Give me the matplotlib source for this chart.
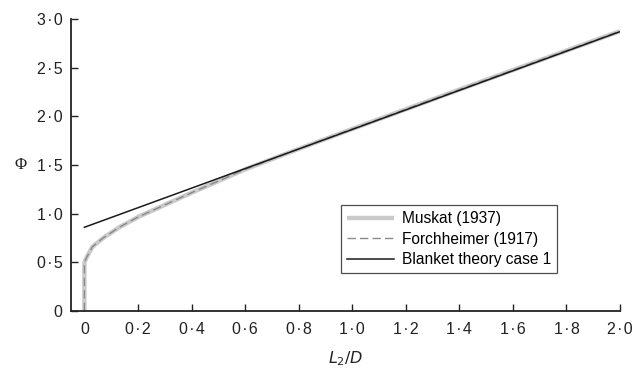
"""Shape factor Phi against L2/D: Muskat, Forchheimer and blanket theory."""

import matplotlib
matplotlib.use("Agg")
import matplotlib.pyplot as plt
from matplotlib.ticker import FuncFormatter

# --- Data -----------------------------------------------------------------
L2_D = [0.0, 0.0, 0.005, 0.01, 0.03, 0.07, 0.13, 0.2, 0.3, 0.4, 0.5, 0.6,
        0.8, 1.0, 1.5, 2.0]
PHI_MUSKAT = [0.0, 0.50, 0.53, 0.56, 0.66, 0.75, 0.86, 0.965, 1.09, 1.215,
              1.335, 1.455, 1.665, 1.87, 2.375, 2.875]
PHI_FORCHHEIMER = PHI_MUSKAT  # the two curves overlap in the figure

L2_D_BLANKET = [0.0, 2.0]
PHI_BLANKET = [0.86, 2.87]

X_TICKS = [0.0, 0.2, 0.4, 0.6, 0.8, 1.0, 1.2, 1.4, 1.6, 1.8, 2.0]
Y_TICKS = [0.0, 0.5, 1.0, 1.5, 2.0, 2.5, 3.0]

SANS = ["Liberation Sans", "DejaVu Sans"]
INK = "#222222"


def dot_fmt(v, _pos):
    """0.5 -> '0·5' (hair spaces round the dot), 0 -> '0'."""
    if abs(v) < 1e-9:
        return "0"
    return f"{v:.1f}".replace(".", "\u200a\u00b7\u200a")


plt.rcParams["font.family"] = SANS

fig = plt.figure(figsize=(6.32, 3.71), dpi=100)
ax = fig.add_axes([71 / 632, 60 / 371, 549 / 632, 292 / 371])

ax.plot(L2_D, PHI_MUSKAT, color="#cacaca", linewidth=3.2,
        solid_capstyle="butt", label="Muskat (1937)")
ax.plot(L2_D, PHI_FORCHHEIMER, color="#8a8a8a", linewidth=1.0,
        linestyle=(0, (6, 3)), label="Forchheimer (1917)")
ax.plot(L2_D_BLANKET, PHI_BLANKET, color="#1a1a1a", linewidth=1.1,
        label="Blanket theory case 1")

ax.set_xlim(-0.05, 2.0)
ax.set_ylim(0, 3.0)
ax.set_xticks(X_TICKS)
ax.set_yticks(Y_TICKS)
ax.xaxis.set_major_formatter(FuncFormatter(dot_fmt))
ax.yaxis.set_major_formatter(FuncFormatter(dot_fmt))
ax.tick_params(direction="in", length=5, width=1.0, labelsize=11.5,
               colors=INK)
ax.tick_params(axis="x", pad=8)
ax.tick_params(axis="y", pad=6)

for side in ("top", "right"):
    ax.spines[side].set_visible(False)
for side in ("left", "bottom"):
    ax.spines[side].set_linewidth(1.3)
    ax.spines[side].set_color(INK)

ax.set_xlabel("$L_2/D$", fontsize=11.5, color=INK, labelpad=9)
ax.set_ylabel("\u03a6", fontsize=12, rotation=0, color=INK,
              family=["Liberation Serif", "DejaVu Serif"], labelpad=12,
              va="center")

leg = ax.legend(loc="upper left", bbox_to_anchor=(341 / 632, 1 - 205 / 371),
                bbox_transform=fig.transFigure, borderaxespad=0,
                fontsize=11.2, frameon=True, fancybox=False,
                borderpad=0.4, handlelength=3.0, handletextpad=0.5,
                labelspacing=0.35)
leg.get_frame().set_edgecolor(INK)
leg.get_frame().set_linewidth(0.9)

fig.savefig("out.png", dpi=100)
